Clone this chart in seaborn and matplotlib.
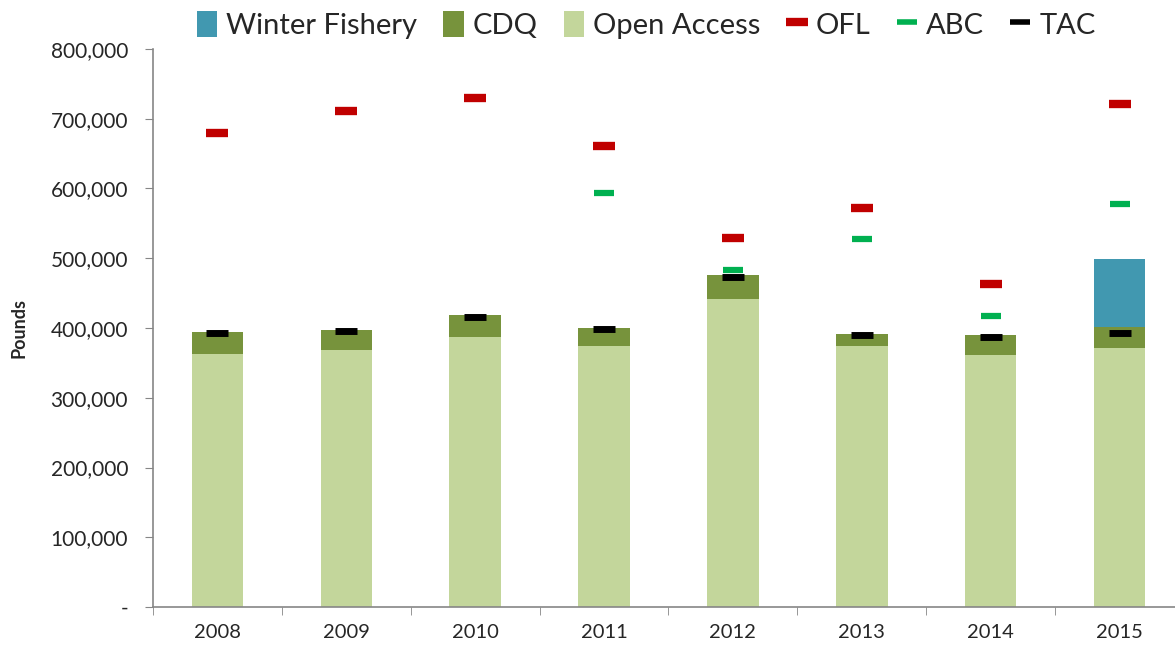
import numpy as np
import pandas as pd
import matplotlib
matplotlib.use("Agg")
import matplotlib.pyplot as plt
import seaborn as sns
from matplotlib.patches import Patch
from matplotlib.lines import Line2D
from matplotlib.ticker import FuncFormatter, FixedLocator

years = ["2008", "2009", "2010", "2011", "2012", "2013", "2014", "2015"]
open_access = [363200, 368500, 387100, 374200, 441600, 373800, 360900, 371800]
cdq = [31500, 28600, 31100, 25800, 34400, 18000, 28600, 29600]
winter_fishery = [0, 0, 0, 0, 0, 0, 0, 97500]
ofl = [679600, 711100, 729700, 660500, 528600, 572500, 462700, 720700]
abc = [np.nan, np.nan, np.nan, 593100, 482700, 527200, 416800, 577800]
tac = [393300, 395700, 415300, 399000, 473500, 390000, 387100, 392400]

C_WF = "#4198B0"
C_CDQ = "#77933C"
C_OA = "#C3D69B"
C_OFL = "#C00000"
C_ABC = "#00B050"
C_TAC = "#000000"

sns.set_style("white")
plt.rcParams["font.family"] = ["Lato", "DejaVu Sans"]

df = pd.DataFrame({"year": years, "oa": open_access, "cdq": cdq, "wf": winter_fishery,
                   "ofl": ofl, "abc": abc, "tac": tac})
df["lvl2"] = df["oa"] + df["cdq"]
df["lvl3"] = df["lvl2"] + df["wf"]

fig = plt.figure(figsize=(11.75, 6.52), dpi=100)
ax = fig.add_axes([153/1175, 45/652, 1031/1175, 558/652])

bw = 0.4
sns.barplot(data=df, x="year", y="lvl3", color=C_WF, width=bw, saturation=1, ax=ax, linewidth=0)
sns.barplot(data=df, x="year", y="lvl2", color=C_CDQ, width=bw, saturation=1, ax=ax, linewidth=0)
sns.barplot(data=df, x="year", y="oa", color=C_OA, width=bw, saturation=1, ax=ax, linewidth=0)

sns.scatterplot(data=df, x="year", y="ofl", marker="_", s=260, color=C_OFL,
                linewidth=6, ax=ax, zorder=5, legend=False)
sns.scatterplot(data=df, x="year", y="abc", marker="_", s=220, color=C_ABC,
                linewidth=4.5, ax=ax, zorder=5, legend=False)
sns.scatterplot(data=df, x="year", y="tac", marker="_", s=240, color=C_TAC,
                linewidth=5, ax=ax, zorder=6, legend=False)

ax.set_xlim(-0.5, 7.5)
ax.set_ylim(0, 800000)
ax.set_yticks(np.arange(0, 800001, 100000))
ax.yaxis.set_major_formatter(FuncFormatter(lambda v, p: "-" if v == 0 else f"{int(v):,}"))
ax.tick_params(axis="y", labelsize=15, length=6, direction="out", color="#868686", left=True, pad=12)
ax.set_xticks(range(len(years)))
ax.set_xticklabels(years)
ax.tick_params(axis="x", which="major", labelsize=14.5, length=0, pad=12)
ax.xaxis.set_minor_locator(FixedLocator(np.arange(-0.5, 8, 1.0)))
ax.tick_params(axis="x", which="minor", length=6, direction="out", color="#868686", bottom=True)
ax.set_xlabel("")
ax.set_ylabel("Pounds", fontsize=13, fontweight="bold")
ax.yaxis.set_label_coords(-0.122, 0.5)

for s in ["top", "right"]:
    ax.spines[s].set_visible(False)
for s in ["left", "bottom"]:
    ax.spines[s].set_color("#868686")
    ax.spines[s].set_linewidth(1.2)

handles = [
    Patch(facecolor=C_WF, edgecolor="none", label="Winter Fishery"),
    Patch(facecolor=C_CDQ, edgecolor="none", label="CDQ"),
    Patch(facecolor=C_OA, edgecolor="none", label="Open Access"),
    Line2D([0], [0], color=C_OFL, linestyle="none", marker="_", markersize=16, mew=6, label="OFL"),
    Line2D([0], [0], color=C_ABC, linestyle="none", marker="_", markersize=14, mew=4, label="ABC"),
    Line2D([0], [0], color=C_TAC, linestyle="none", marker="_", markersize=14, mew=4, label="TAC"),
]
fig.legend(handles=handles, loc="center", bbox_to_anchor=(0.55, 0.962), ncol=6,
           frameon=False, fontsize=21, handlelength=0.7, handleheight=1.0,
           handletextpad=0.3, columnspacing=0.9, borderaxespad=0)

fig.savefig("out.png", dpi=100)
